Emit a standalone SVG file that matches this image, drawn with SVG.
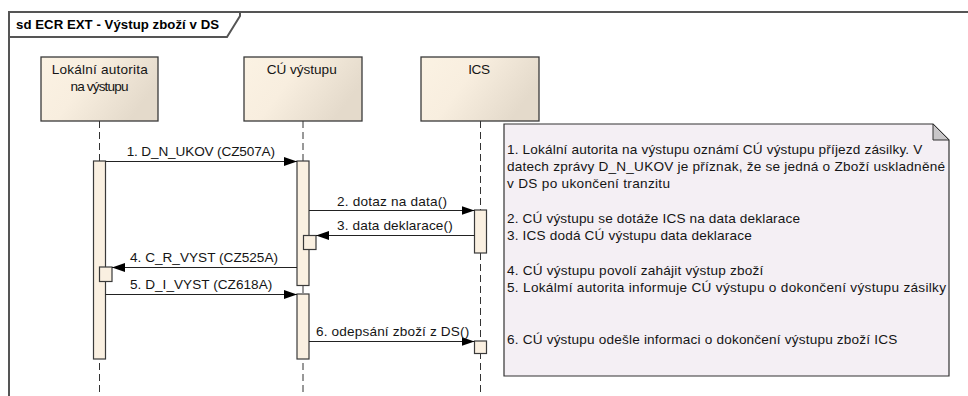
<svg xmlns="http://www.w3.org/2000/svg" width="968" height="396" viewBox="0 0 968 396">
<defs>
<linearGradient id="boxg" x1="0" y1="0" x2="1" y2="0.4">
<stop offset="0" stop-color="#FBF2E3"/>
<stop offset="0.45" stop-color="#F8EEDF"/>
<stop offset="1" stop-color="#E4DACB"/>
</linearGradient>
<marker id="arr" markerWidth="14" markerHeight="10" refX="13" refY="5" orient="auto" markerUnits="userSpaceOnUse">
<path d="M0,0.5 L13,5 L0,9.5 Z" fill="#000"/>
</marker>
</defs>
<style>
text{font-family:"Liberation Sans",Arial,sans-serif;font-size:13.6px;fill:#151515}
.title{font-weight:bold;font-size:13.2px;fill:#000}
.frame{fill:none;stroke:#555;stroke-width:2}
.lbox{fill:url(#boxg);stroke:#3a3a3a;stroke-width:1.3}
.life{stroke:#333;stroke-width:1;stroke-dasharray:7,4;fill:none}
.act{fill:#FAF0E1;stroke:#3a3a3a;stroke-width:1.2}
.msg{stroke:#222;stroke-width:1.1;fill:none;marker-end:url(#arr)}
.note{fill:#F4EFF4;stroke:#333;stroke-width:1.2}
.fold{fill:#C8C6C8;stroke:#333;stroke-width:1}
</style>
<rect width="968" height="396" fill="#fff"/>
<g id="frame">
<path class="frame" d="M9,396 V12 H968"/>
<path class="frame" d="M9,37 H227 L240,16 V12"/>
<text class="title" x="16" y="29" textLength="203" lengthAdjust="spacing">sd ECR EXT - Výstup zboží v DS</text>
</g>
<g id="lifelines">
<line class="life" x1="99.5" y1="121" x2="99.5" y2="396"/>
<line class="life" x1="303" y1="121" x2="303" y2="396"/>
<line class="life" x1="480.5" y1="121" x2="480.5" y2="396"/>
</g>
<g id="lokalni">
<rect class="lbox" x="41" y="57" width="117" height="64"/>
<text x="51.7" y="74" textLength="96" lengthAdjust="spacing">Lokální autorita</text>
<text x="70.5" y="91" textLength="58" lengthAdjust="spacing">na výstupu</text>
<rect class="act" x="93.5" y="161" width="12" height="198"/>
<rect class="act" x="99.5" y="267" width="12.5" height="14.5"/>
</g>
<g id="cu">
<rect class="lbox" x="244" y="57" width="118" height="64"/>
<text x="266.7" y="74" textLength="70" lengthAdjust="spacing">CÚ výstupu</text>
<rect class="act" x="297" y="161" width="12" height="124.5"/>
<rect class="act" x="303.5" y="235.5" width="12.5" height="14"/>
<rect class="act" x="297" y="294" width="12" height="65"/>
</g>
<g id="ics">
<rect class="lbox" x="421" y="57" width="118" height="64"/>
<text x="468.3" y="74" textLength="21.7" lengthAdjust="spacing">ICS</text>
<rect class="act" x="474.5" y="210" width="12" height="43"/>
<rect class="act" x="474.5" y="341" width="12" height="12.5"/>
</g>
<g id="connectors">
<line class="msg" x1="105.5" y1="161.5" x2="297" y2="161.5"/>
<text x="126.7" y="155.5" textLength="148.3" lengthAdjust="spacing">1. D_N_UKOV (CZ507A)</text>
<line class="msg" x1="309" y1="210.5" x2="474.5" y2="210.5"/>
<text x="337" y="206" textLength="110" lengthAdjust="spacing">2. dotaz na data()</text>
<line class="msg" x1="474.5" y1="235.5" x2="316" y2="235.5"/>
<text x="337" y="229.5" textLength="115.7" lengthAdjust="spacing">3. data deklarace()</text>
<line class="msg" x1="297" y1="267.5" x2="112" y2="267.5"/>
<text x="130" y="262" textLength="148" lengthAdjust="spacing">4. C_R_VYST (CZ525A)</text>
<line class="msg" x1="105.5" y1="294.5" x2="297" y2="294.5"/>
<text x="130" y="289" textLength="142.3" lengthAdjust="spacing">5. D_I_VYST (CZ618A)</text>
<line class="msg" x1="309" y1="341.5" x2="474.5" y2="341.5"/>
<text x="316" y="335.5" textLength="153.3" lengthAdjust="spacing">6. odepsání zboží z DS()</text>
</g>
<g id="note">
<path class="note" d="M504,124 H933 L949,140 V376 H504 Z"/>
<path class="fold" d="M933,124 L949,140 H933 Z"/>
<text x="507" y="153.5" textLength="415.3" lengthAdjust="spacing">1. Lokální autorita na výstupu oznámí CÚ výstupu příjezd zásilky. V</text>
<text x="507" y="170.8" textLength="438" lengthAdjust="spacing">datech zprávy D_N_UKOV je příznak, že se jedná o Zboží uskladněné</text>
<text x="507" y="188.1" textLength="163" lengthAdjust="spacing">v DS po ukončení tranzitu</text>
<text x="507" y="222.7" textLength="293" lengthAdjust="spacing">2. CÚ výstupu se dotáže ICS na data deklarace</text>
<text x="507" y="240" textLength="244.7" lengthAdjust="spacing">3. ICS dodá CÚ výstupu data deklarace</text>
<text x="507" y="274.6" textLength="256.3" lengthAdjust="spacing">4. CÚ výstupu povolí zahájit výstup zboží</text>
<text x="507" y="292.2" textLength="439" lengthAdjust="spacing">5. Lokálmí autorita informuje CÚ výstupu o dokončení výstupu zásilky</text>
<text x="507" y="343.8" textLength="390.3" lengthAdjust="spacing">6. CÚ výstupu odešle informaci o dokončení výstupu zboží ICS</text>
</g>
</svg>
